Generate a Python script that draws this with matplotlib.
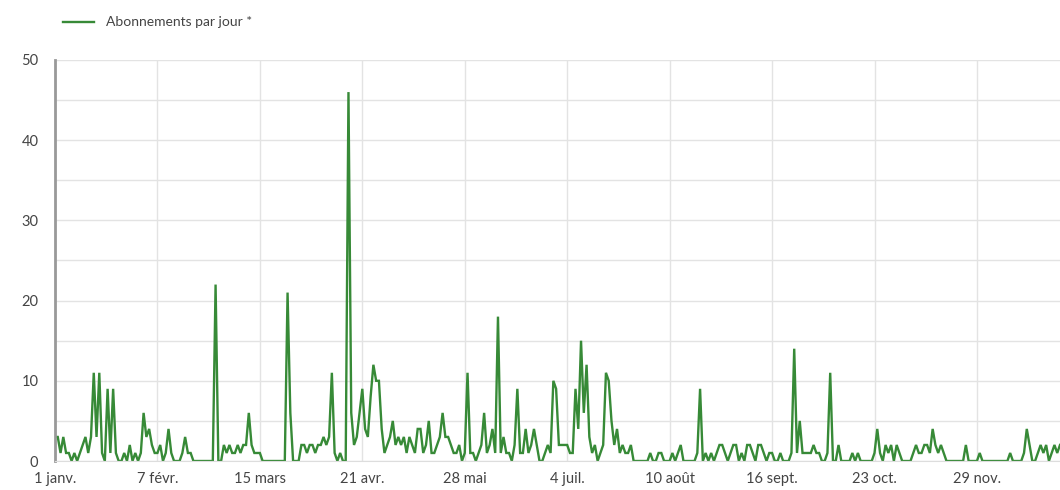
import matplotlib
matplotlib.use("Agg")
import matplotlib.pyplot as plt
from matplotlib.ticker import MultipleLocator, FixedLocator

plt.rcParams['font.family'] = ['Lato', 'DejaVu Sans']

series_label = "Abonnements par jour *"
tick_days = [0, 37, 74, 111, 148, 185, 222, 259, 296, 333]
tick_labels = ["1 janv.", "7 févr.", "15 mars", "21 avr.", "28 mai", "4 juil.",
               "10 août", "16 sept.", "23 oct.", "29 nov."]

# daily subscription counts, day 0 = 1 January (leap year)
values = [
    3, 3, 1, 3, 1, 1, 0, 1, 0, 1, 2, 3, 1, 3, 11, 3, 11, 1, 0, 9,       # 0-19
    1, 9, 1, 0, 0, 1, 0, 2, 0, 1, 0, 1, 6, 3, 4, 2, 1, 1, 2, 0,         # 20-39
    1, 4, 1, 0, 0, 0, 1, 3, 1, 1, 0, 0, 0, 0, 0, 0, 0, 0, 22, 0,        # 40-59
    0, 2, 1, 2, 1, 1, 2, 1, 2, 2, 6, 2, 1, 1, 1, 0, 0, 0, 0, 0,         # 60-79
    0, 0, 0, 0, 21, 6, 0, 0, 0, 2, 2, 1, 2, 2, 1, 2, 2, 3, 2, 3,        # 80-99
    11, 1, 0, 1, 0, 0, 46, 6, 2, 3, 6, 9, 4, 3, 8, 12, 10, 10, 4, 1,    # 100-119
    2, 3, 5, 2, 3, 2, 3, 1, 3, 2, 1, 4, 4, 1, 2, 5, 1, 1, 2, 3,         # 120-139
    6, 3, 3, 2, 1, 1, 2, 0, 1, 11, 1, 1, 0, 1, 2, 6, 1, 2, 4, 1,        # 140-159
    18, 1, 3, 1, 1, 0, 2, 9, 1, 1, 4, 1, 2, 4, 2, 0, 0, 1, 2, 1,        # 160-179
    10, 9, 2, 2, 2, 2, 1, 1, 9, 4, 15, 6, 12, 3, 1, 2, 0, 1, 2, 11,     # 180-199
    10, 5, 2, 4, 1, 2, 1, 1, 2, 0, 0, 0, 0, 0, 0, 1, 0, 0, 1, 1,        # 200-219
    0, 0, 0, 1, 0, 1, 2, 0, 0, 0, 0, 0, 1, 9, 0, 1, 0, 1, 0, 1,         # 220-239
    2, 2, 1, 0, 1, 2, 2, 0, 1, 0, 2, 2, 1, 0, 2, 2, 1, 0, 1, 1,         # 240-259
    0, 0, 1, 0, 0, 0, 1, 14, 1, 5, 1, 1, 1, 1, 2, 1, 1, 0, 0, 1,        # 260-279
    11, 0, 0, 2, 0, 0, 0, 0, 1, 0, 1, 0, 0, 0, 0, 0, 1, 4, 1, 0,        # 280-299
    2, 1, 2, 0, 2, 1, 0, 0, 0, 0, 1, 2, 1, 1, 2, 2, 1, 4, 2, 1,         # 300-319
    2, 1, 0, 0, 0, 0, 0, 0, 0, 2, 0, 0, 0, 0, 1, 0, 0, 0, 0, 0,         # 320-339
    0, 0, 0, 0, 0, 1, 0, 0, 0, 0, 1, 4, 2, 0, 0, 1, 2, 1, 2, 0,         # 340-359
    1, 2, 1, 2,                                                         # 360-363
]
days = list(range(len(values)))

line_color = "#378a37"
text_color = "#444444"
grid_color = "#e3e3e3"

fig = plt.figure(figsize=(10.6, 4.9), dpi=100)
ax = fig.add_axes([55 / 1060, 1 - 461 / 490, 1 - 55 / 1060, (461 - 60) / 490])

ax.plot(days, values, color=line_color, linewidth=1.7, label=series_label,
        solid_joinstyle="miter")

ax.set_xlim(0, len(values) - 1)
ax.set_ylim(0, 50)

ax.xaxis.set_major_locator(FixedLocator(tick_days))
ax.set_xticklabels(tick_labels)
ax.yaxis.set_major_locator(MultipleLocator(10))
ax.yaxis.set_minor_locator(MultipleLocator(5))

ax.grid(True, which="both", axis="y", color=grid_color, linewidth=1)
ax.grid(True, which="major", axis="x", color=grid_color, linewidth=1)
ax.set_axisbelow(True)

for s in ["top", "right"]:
    ax.spines[s].set_visible(False)
ax.spines["bottom"].set_color("#dddddd")
ax.spines["left"].set_color("#999999")
ax.spines["left"].set_linewidth(2)

ax.tick_params(axis="both", which="both", length=0, colors=text_color, labelsize=10.5)
ax.tick_params(axis="y", pad=12)
ax.tick_params(axis="x", pad=8)

fig.legend(handles=ax.get_lines(), labels=[series_label], loc="upper left",
           bbox_to_anchor=(50 / 1060, 1 - 4 / 490), frameon=False,
           fontsize=10, handlelength=2.3, labelcolor=text_color)

fig.savefig("out.png", dpi=100)
